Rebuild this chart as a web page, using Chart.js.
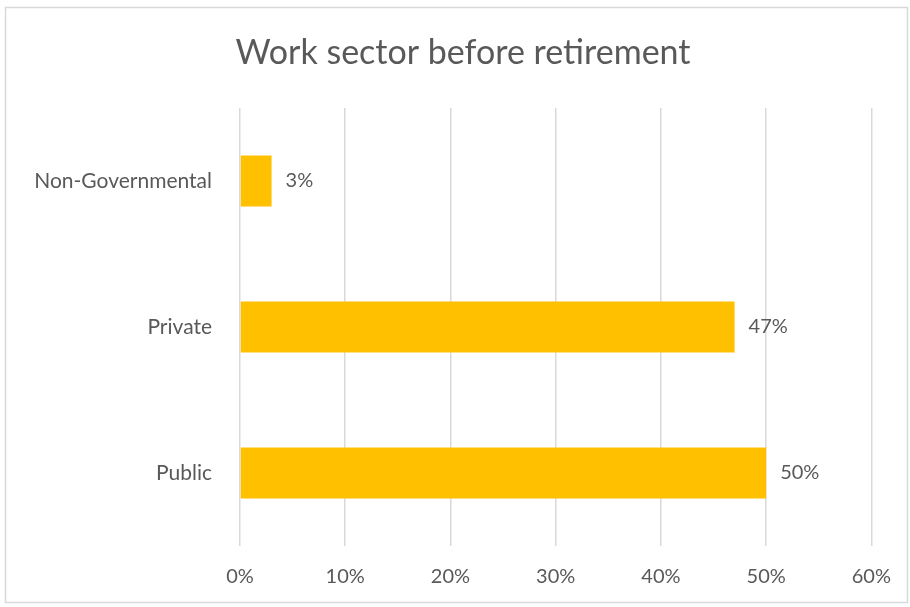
<!DOCTYPE html>
<html>
<head>
<meta charset="utf-8">
<title>Work sector before retirement</title>
<script src="https://cdn.jsdelivr.net/npm/chart.js@4"></script>
<style>
  html, body { margin: 0; padding: 0; background: #fff; }
  #wrap { width: 910px; height: 607px; }
</style>
</head>
<body>
<div id="wrap"><canvas id="sectorChart" width="910" height="607"></canvas></div>
<script>
// Share of respondents by work sector before retirement
const sectors = ['Non-Governmental', 'Private', 'Public'];
const shares = [3, 47, 50];
const axisTicks = [0, 10, 20, 30, 40, 50, 60];
const chartTitle = 'Work sector before retirement';

const textColor = '#595959';
const fontFamily = 'Lato, "Open Sans", "Liberation Sans", sans-serif';

// Outer frame and the title, centred on the whole frame rather than the plot
const framePlugin = {
    id: 'frame',
    beforeDraw(chart) {
        const ctx = chart.ctx;
        ctx.save();
        ctx.fillStyle = '#fff';
        ctx.fillRect(0, 0, chart.width, chart.height);
        ctx.strokeStyle = '#d9d9d9';
        ctx.lineWidth = 1.5;
        ctx.strokeRect(5.5, 7.5, chart.width - 8, chart.height - 12);
        ctx.fillStyle = textColor;
        ctx.font = '34px ' + fontFamily;
        ctx.textAlign = 'center';
        ctx.textBaseline = 'middle';
        ctx.fillText(chartTitle, 463, 53);
        ctx.restore();
    }
};

// Percent labels just past the end of each bar
const valueLabels = {
    id: 'valueLabels',
    afterDatasetsDraw(chart) {
        const ctx = chart.ctx;
        const meta = chart.getDatasetMeta(0);
        ctx.save();
        ctx.fillStyle = textColor;
        ctx.font = '20px ' + fontFamily;
        ctx.textAlign = 'left';
        ctx.textBaseline = 'middle';
        meta.data.forEach((bar, i) => {
            ctx.fillText(shares[i] + '%', bar.x + 14, bar.y);
        });
        ctx.restore();
    }
};

new Chart(document.getElementById('sectorChart'), {
    type: 'bar',
    data: {
        labels: sectors,
        datasets: [{
            data: shares,
            backgroundColor: '#FFC000',
            barPercentage: 0.35,
            categoryPercentage: 1
        }]
    },
    options: {
        indexAxis: 'y',
        responsive: false,
        animation: false,
        layout: { padding: { top: 108, left: 5, right: 38, bottom: 0 } },
        plugins: {
            legend: { display: false },
            tooltip: { enabled: false },
            title: { display: false }
        },
        scales: {
            x: {
                min: axisTicks[0],
                max: axisTicks[axisTicks.length - 1],
                afterBuildTicks: (scale) => {
                    scale.ticks = axisTicks.map(v => ({ value: v }));
                },
                afterFit: (scale) => { scale.height = 61; },
                grid: { color: '#d9d9d9', lineWidth: 1.5, drawTicks: false },
                border: { display: false },
                ticks: {
                    color: textColor,
                    padding: 19,
                    font: { family: fontFamily, size: 20 },
                    callback: v => v + '%'
                }
            },
            y: {
                afterFit: (scale) => { scale.width = 235; },
                grid: { display: false },
                border: { display: false },
                ticks: {
                    color: textColor,
                    padding: 20,
                    font: { family: fontFamily, size: 21 }
                }
            }
        }
    },
    plugins: [framePlugin, valueLabels]
});
</script>
</body>
</html>
